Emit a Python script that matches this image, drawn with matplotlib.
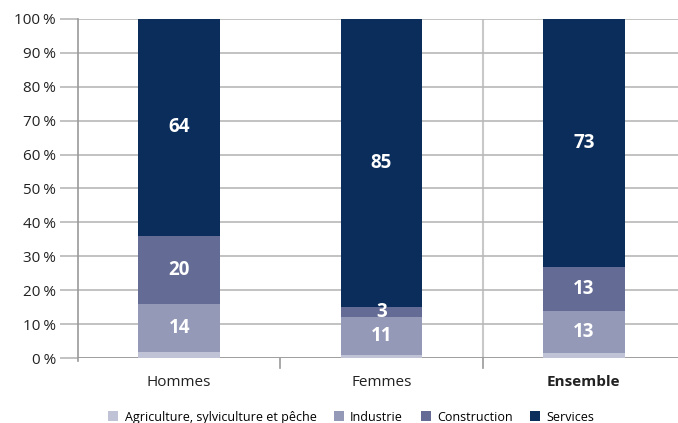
import numpy as np
import matplotlib.pyplot as plt
from matplotlib.patches import Patch

plt.rcParams['font.family'] = ['Open Sans', 'DejaVu Sans']

categories = ['Hommes', 'Femmes', 'Ensemble']
series_names = ['Agriculture, sylviculture et pêche', 'Industrie', 'Construction', 'Services']
agriculture = [1.8, 1.0, 1.4]
industrie = [14.2, 11.0, 12.6]
construction = [20.0, 3.0, 12.7]
services = [64.0, 85.0, 73.3]
colors = ['#c0c2d6', '#9599b8', '#646b94', '#0a2d5c']
yticks = [0, 10, 20, 30, 40, 50, 60, 70, 80, 90, 100]

fig = plt.figure(figsize=(6.78, 4.23), dpi=100)
ax = fig.add_axes([78 / 678, 1 - 358 / 423, 607 / 678, 339 / 423])

x = np.arange(len(categories))
series = [agriculture, industrie, construction, services]
bottom = np.zeros(len(categories))
for i, vals in enumerate(series):
    vals = np.array(vals)
    ax.bar(x, vals, 0.405, bottom=bottom, color=colors[i], zorder=3)
    if i > 0:
        for xi, b, v in zip(x, bottom, vals):
            ax.text(xi, b + v / 2, f'{v:.0f}', color='white', fontsize=13.5,
                    fontweight='bold', ha='center', va='center', zorder=4)
    bottom += vals

ax.set_xlim(-0.5, 2.5)
ax.set_ylim(0, 100)
ax.set_yticks(yticks)
ax.set_yticklabels([f'{t}\u202f%' for t in yticks], fontsize=11, color='#222222')
ax.yaxis.grid(True, color='#b8b8b8', linewidth=1.2, zorder=0)
ax.axhline(0, color='#999999', linewidth=1.2, zorder=2)
ax.tick_params(axis='y', length=13, color='#b8b8b8', width=1.2, pad=3)
ax.axvline(1.5, color='#c8c8c8', linewidth=1.5, zorder=1)

ax.set_xticks(x)
ax.set_xticklabels(categories, fontsize=11, color='#222222')
ax.get_xticklabels()[2].set_fontweight('bold')
ax.tick_params(axis='x', length=0, pad=12)
for sep in [0.5, 1.5]:
    ax.plot([sep, sep], [0, -3], color='#999999', linewidth=1.2, clip_on=False)

for s in ['top', 'right', 'bottom']:
    ax.spines[s].set_visible(False)
ax.spines['left'].set_color('#999999')
ax.spines['left'].set_linewidth(1.2)
ax.spines['left'].set_bounds(-1, 100)

handles = [Patch(facecolor=c, label=n) for c, n in zip(colors, series_names)]
fig.legend(handles=handles, loc='center', bbox_to_anchor=(0.518, 1 - 417 / 423),
           ncol=4, frameon=False, fontsize=9, handlelength=0.8, handleheight=0.8,
           columnspacing=1.4, handletextpad=0.5)

fig.savefig('out.png', dpi=100)
